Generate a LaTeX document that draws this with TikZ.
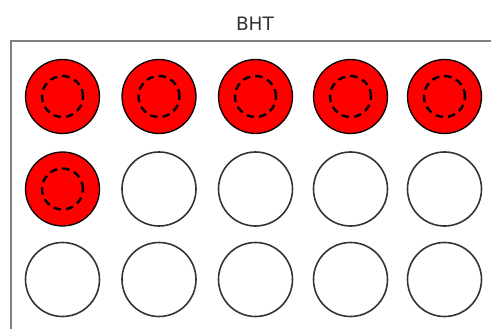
\documentclass[tikz,border=0pt]{standalone}
\usepackage{fontspec}
\setmainfont{DejaVu Sans}
\begin{document}
\begin{tikzpicture}[
          x=1pt, y=-1pt,
          well/.style={circle, draw=black!80, line width=1.6pt, inner sep=0pt, minimum size=74pt},
          hit/.style={well, fill=red, draw=black, line width=1.3pt},
          core/.style={circle, draw=black, line width=2.4pt, dash pattern=on 7.5pt off 5pt, inner sep=0pt, minimum size=41pt}
        ]
        \clip (0,0) rectangle (491,329);

        % Plate title and frame
        \node[font=\fontsize{18.5}{20}\selectfont, text=black!80] (title) at (255,24) {BHT};
        \draw[gray, line width=2pt] (11,340) -- (11,41) -- (500,41);

        % Row 1
        \node[hit] (w11) at (62.5,96.5) {};
        \node[hit] (w12) at (159,96.5) {};
        \node[hit] (w13) at (255.5,96.5) {};
        \node[hit] (w14) at (350.5,96.5) {};
        \node[hit] (w15) at (444.5,96.5) {};
        \node[core] at (w11) {};
        \node[core] at (w12) {};
        \node[core] at (w13) {};
        \node[core] at (w14) {};
        \node[core] at (w15) {};

        % Row 2
        \node[hit] (w21) at (62.5,189) {};
        \node[well] (w22) at (159,189) {};
        \node[well] (w23) at (255.5,189) {};
        \node[well] (w24) at (350.5,189) {};
        \node[well] (w25) at (444.5,189) {};
        \node[core] at (w21) {};

        % Row 3
        \node[well] (w31) at (62.5,279.5) {};
        \node[well] (w32) at (159,279.5) {};
        \node[well] (w33) at (255.5,279.5) {};
        \node[well] (w34) at (350.5,279.5) {};
        \node[well] (w35) at (444.5,279.5) {};

      \end{tikzpicture}
\end{document}
